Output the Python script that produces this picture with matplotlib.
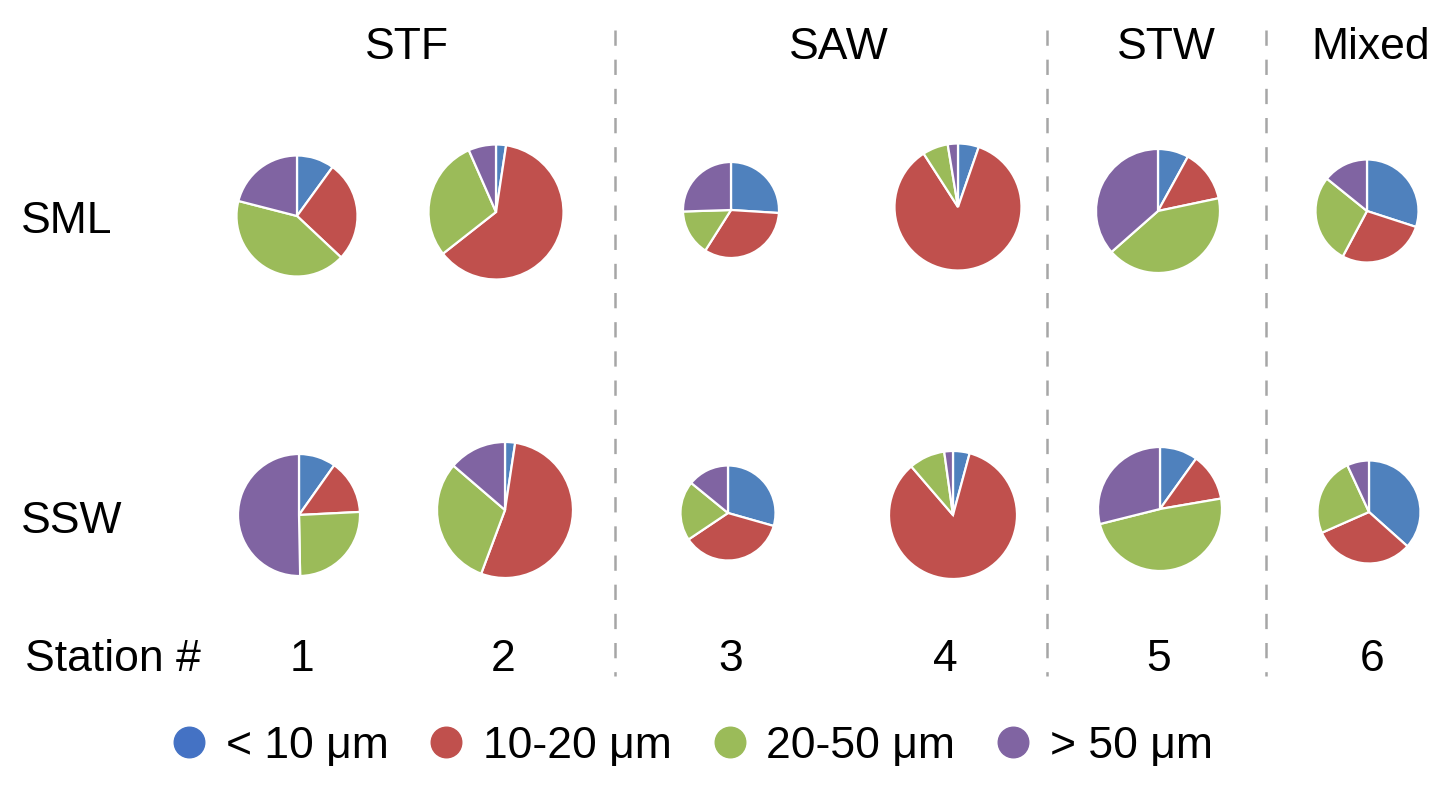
import matplotlib
matplotlib.use("Agg")
import matplotlib.pyplot as plt
from matplotlib.lines import Line2D

plt.rcParams['font.family'] = ['Liberation Sans', 'DejaVu Sans']
plt.rcParams['lines.scale_dashes'] = False

# ---- data ----
stations = ['1', '2', '3', '4', '5', '6']
water_masses = ['STF', 'SAW', 'STW', 'Mixed']
layers = ['SML', 'SSW']
size_classes = ['< 10 μm', '10-20 μm', '20-50 μm', '> 50 μm']

# percentage of each size class per station (SML row)
sml_lt10 = [10.0, 2.4, 26.0, 5.3, 8.0, 30.0]
sml_10_20 = [27.0, 62.0, 33.0, 85.6, 13.7, 27.8]
sml_20_50 = [42.0, 29.0, 15.5, 6.5, 41.8, 28.0]
sml_gt50 = [21.0, 6.6, 25.5, 2.6, 36.5, 14.2]

# percentage of each size class per station (SSW row)
ssw_lt10 = [9.8, 2.4, 29.4, 4.2, 9.9, 36.6]
ssw_10_20 = [14.4, 53.3, 36.2, 84.5, 12.4, 31.8]
ssw_20_50 = [25.5, 30.6, 20.3, 9.1, 48.8, 24.7]
ssw_gt50 = [50.3, 13.7, 14.1, 2.2, 28.9, 6.9]

# ---- layout / style ----
W, H = 1452, 795
pie_colors = ['#4F81BD', '#C0504D', '#9BBB59', '#8064A2']
legend_colors = ['#4472C4', '#C0504D', '#9BBB59', '#8064A2']

sml_x = [297, 496, 731, 958, 1158, 1367]
sml_y = [216, 212, 210, 207, 211, 211]
sml_r = [60.5, 67.5, 48, 63.5, 62, 51.5]
ssw_x = [299, 505, 728, 953, 1160, 1369]
ssw_y = [515, 510, 513, 515, 509, 512]
ssw_r = [61, 68, 47.5, 64, 62, 51.5]

station_label_x = [302, 503, 731, 945, 1159, 1372]
group_label_x = [407, 839, 1166, 1371]
separator_x = [615, 1047, 1266]

fig = plt.figure(figsize=(W / 100, H / 100), dpi=100)
ax = fig.add_axes([0, 0, 1, 1])


def Y(yp):
    return H - yp


rows = [
    (list(zip(sml_lt10, sml_10_20, sml_20_50, sml_gt50)), sml_x, sml_y, sml_r),
    (list(zip(ssw_lt10, ssw_10_20, ssw_20_50, ssw_gt50)), ssw_x, ssw_y, ssw_r),
]
for vals, xs, ys, rs in rows:
    for v, x, y, r in zip(vals, xs, ys, rs):
        ax.pie(v, colors=pie_colors, startangle=90, counterclock=False,
               center=(x, Y(y)), radius=r, frame=True,
               wedgeprops=dict(edgecolor='white', linewidth=1.6))

# separators
for sx in separator_x:
    ax.plot([sx, sx], [Y(30), Y(676)], color='#A6A6A6', lw=1.8,
            dashes=(11, 10), solid_capstyle='butt', dash_capstyle='butt')

fs = 32
for gx, name in zip(group_label_x, water_masses):
    ax.text(gx, Y(59), name, ha='center', va='baseline', fontsize=fs)

ax.text(21, Y(233), layers[0], ha='left', va='baseline', fontsize=fs)
ax.text(21, Y(533), layers[1], ha='left', va='baseline', fontsize=fs)

ax.text(25, Y(671), 'Station #', ha='left', va='baseline', fontsize=fs)
for sx, s in zip(station_label_x, stations):
    ax.text(sx, Y(671), s, ha='center', va='baseline', fontsize=fs)

ax.set_xlim(0, W)
ax.set_ylim(0, H)
ax.set_aspect('equal')
ax.axis('off')

handles = [Line2D([], [], marker='o', linestyle='none', markersize=22,
                  markerfacecolor=c, markeredgecolor=c) for c in legend_colors]
fig.legend(handles, size_classes, loc='center', ncol=4,
           bbox_to_anchor=(693 / W, 1 - 746 / H), frameon=False,
           fontsize=32, handlelength=0.7, handletextpad=0.48,
           columnspacing=0.95, borderpad=0)

fig.savefig('out.png', dpi=100)
